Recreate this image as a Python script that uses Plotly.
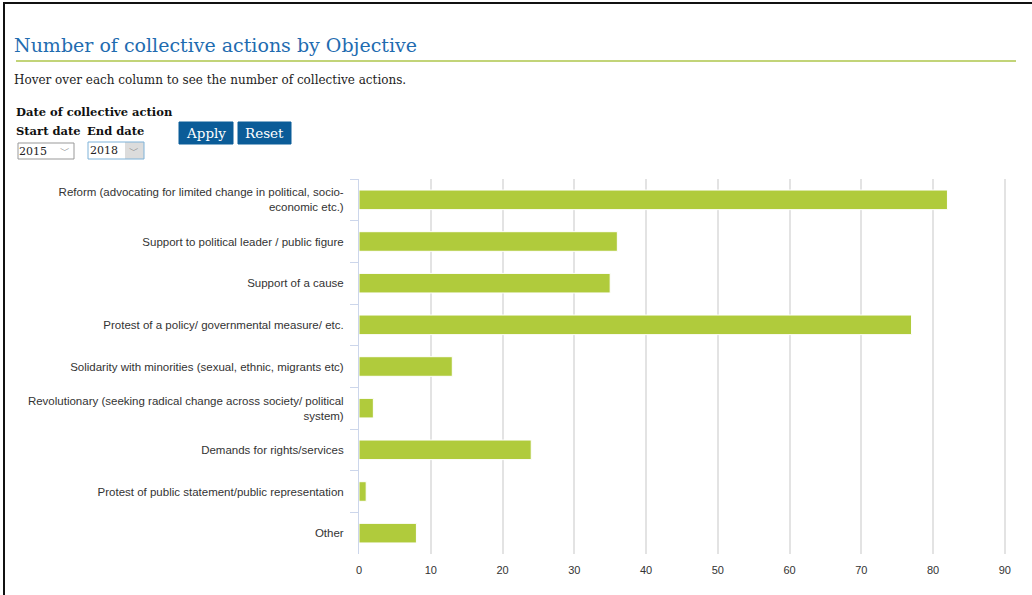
import plotly.graph_objects as go

W, H = 1032, 595

categories = [
    "Reform (advocating for limited change in political, socio-<br>economic etc.)",
    "Support to political leader / public figure",
    "Support of a cause",
    "Protest of a policy/ governmental measure/ etc.",
    "Solidarity with minorities (sexual, ethnic, migrants etc)",
    "Revolutionary (seeking radical change across society/ political<br>system)",
    "Demands for rights/services",
    "Protest of public statement/public representation",
    "Other",
]
values = [82, 36, 35, 77, 13, 2, 24, 1, 8]
x_ticks = [0, 10, 20, 30, 40, 50, 60, 70, 80, 90]

title_text = "Number of collective actions by Objective"
subtitle_text = "Hover over each column to see the number of collective actions."


def px(x):
    return x / W


def py(y):
    return 1 - y / H


SERIF = "DejaVu Serif"
SANS = "Liberation Sans, Arial, sans-serif"

fig = go.Figure()
fig.add_trace(go.Bar(
    x=values, y=categories, orientation="h",
    marker=dict(color="#b0cb3c", line=dict(color="#ffffff", width=1)),
    width=0.47,
    hovertemplate="%{y}: %{x}<extra></extra>",
))

shapes = []
annotations = []

# page frame (left and top)
shapes.append(dict(type="line", xref="paper", yref="paper", x0=px(4), x1=px(4), y0=py(2), y1=py(595),
                   line=dict(color="#111111", width=2)))
shapes.append(dict(type="line", xref="paper", yref="paper", x0=px(4), x1=px(1032), y0=py(3), y1=py(3),
                   line=dict(color="#111111", width=2)))
# green rule under the title
shapes.append(dict(type="line", xref="paper", yref="paper", x0=px(16), x1=px(1016), y0=py(61), y1=py(61),
                   line=dict(color="#c2d478", width=2)))


def label(text, x, y, size, color="#111111", family=SERIF, anchor="left"):
    annotations.append(dict(text=text, xref="paper", yref="paper", x=px(x), y=py(y),
                            xanchor=anchor, yanchor="middle", showarrow=False, borderpad=0,
                            font=dict(family=family, size=size, color=color)))


label(title_text, 13, 45, 19, "#1f6cb0")
label(subtitle_text, 13, 80, 12, "#222222")
label("<b>Date of collective action</b>", 15, 112, 11.5)
label("<b>Start date</b>", 15, 131, 11.5)
label("<b>End date</b>", 86, 131, 11.5)

# dropdowns
shapes.append(dict(type="rect", xref="paper", yref="paper", x0=px(18), x1=px(74), y0=py(143), y1=py(159),
                   line=dict(color="#999999", width=1), fillcolor="#ffffff"))
label("2015", 18, 151, 11, "#222222")
label("﹀", 65, 150, 10, "#888888", SANS, "center")
shapes.append(dict(type="rect", xref="paper", yref="paper", x0=px(125), x1=px(144), y0=py(142), y1=py(159),
                   line=dict(width=0), fillcolor="#dcdcdc"))
shapes.append(dict(type="rect", xref="paper", yref="paper", x0=px(88), x1=px(144), y0=py(142), y1=py(159),
                   line=dict(color="#7fb2d8", width=1), fillcolor="rgba(0,0,0,0)"))
label("2018", 89, 150, 11, "#222222")
label("﹀", 134, 150, 10, "#888888", SANS, "center")

# buttons
for x0, x1, txt in [(179, 233, "Apply"), (238, 291, "Reset")]:
    shapes.append(dict(type="rect", xref="paper", yref="paper", x0=px(x0), x1=px(x1), y0=py(122), y1=py(144),
                       line=dict(color="#0b5c98", width=1), fillcolor="#0b5c98"))
    label(txt, (x0 + x1) / 2, 133, 13.5, "#ffffff", SERIF, "center")

fig.update_layout(
    width=W, height=H,
    autosize=False,
    margin=dict(l=0, r=0, t=0, b=0, pad=0),
    paper_bgcolor="#ffffff", plot_bgcolor="#ffffff",
    showlegend=False,
    shapes=shapes, annotations=annotations,
    font=dict(family=SANS, size=11, color="#333333"),
    xaxis=dict(domain=[px(359), px(1007)], range=[0, 90.3], tickvals=x_ticks,
               showgrid=True, gridcolor="#e3e3e3", gridwidth=2, zeroline=False,
               showline=False, ticks="", ticklabelstandoff=8, automargin=False,
               tickfont=dict(family=SANS, size=11, color="#333333"), anchor="y"),
    yaxis=dict(domain=[py(554), py(179)], autorange="reversed", type="category",
               showgrid=False, zeroline=False, showline=True, linecolor="#ccd6eb", linewidth=1,
               ticks="outside", tickson="boundaries", ticklen=8, tickcolor="#ccd6eb",
               ticklabelstandoff=12, automargin=False,
               tickfont=dict(family=SANS, size=11.5, color="#333333"), anchor="x"),
)

fig.write_html("out.html")
